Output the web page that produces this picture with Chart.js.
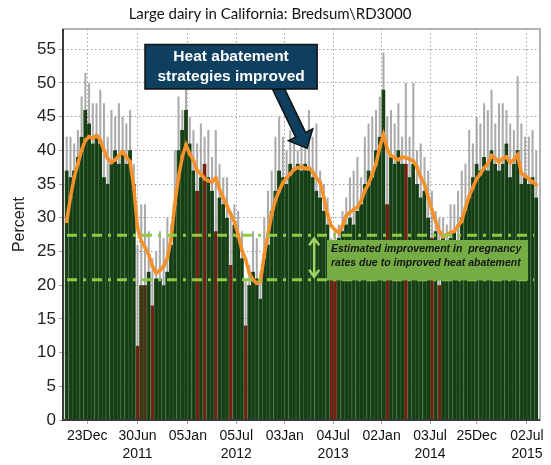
<!DOCTYPE html>
<html>
<head>
<meta charset="utf-8">
<script src="https://cdn.jsdelivr.net/npm/chart.js@4.4.1/dist/chart.umd.min.js"></script>
<style>
  html, body { margin: 0; padding: 0; background: #fff; }
  canvas { display: block; }
</style>
</head>
<body>
<canvas id="myChart" width="551" height="465"></canvas>
<script>
// week 0 = 23 Dec 2010, one bar every second week
var firstWeek = -11;
var stepWeeks = 2;

// pregnancy rate of the week (%)
var prWeek = [
  37, 36, 37, 39, 42, 46, 44, 41, 42, 41,
  36, 35, 38, 40, 38, 40, 38, 40, 35, 11,
  20, 20, 22, 17, 21, 21, 20, 22, 26, 32,
  40, 43, 46, 41, 37, 34, 36, 38, 36, 34,
  28, 33, 32, 30, 23, 29, 27, 24, 14, 20,
  22, 21, 18, 24, 26, 31, 34, 37, 36, 35,
  38, 37, 38, 37, 38, 37, 36, 34, 33, 31,
  29, 21, 21, 27, 28, 29, 30, 29, 31, 32,
  35, 37, 36, 40, 42, 49, 32, 39, 38, 40,
  38, 38, 36, 38, 35, 33, 34, 30, 27, 28,
  20, 27, 25, 27, 28, 26, 30, 31, 33, 36,
  38, 37, 39, 37, 40, 38, 37, 38, 41, 36,
  38, 40, 35, 36, 35, 36, 33
];

// upper limit of the week (%)
var prUpper = [
  42, 42, 41, 43, 48, 51.5, 50, 47, 47, 49,
  47, 42, 46, 45, 47, 45, 44, 46, 38, 26,
  32, 32, 28, 24, 25, 28, 27, 30, 29, 40,
  48, 46, 49, 45, 43, 41, 44, 42, 43, 39,
  43, 38, 36, 36, 31, 32, 31, 28, 21, 23,
  28, 27, 22, 30, 34, 37, 42, 45, 42, 40,
  43, 42, 40, 41, 41, 46, 42, 44, 37, 35,
  33, 27, 28, 29, 31, 33, 36, 37, 39, 36,
  42, 44, 45, 46, 48, 54.5, 45, 46, 44, 47,
  42, 50, 42, 50, 40, 41, 39, 37, 34, 31,
  30, 30, 29, 32, 32, 34, 37, 38, 43, 41,
  45, 44, 47, 46, 49, 44, 47, 47, 46, 44,
  43, 51, 44, 42, 42, 43, 40
];

// rolling average (%)
var prAvg = [
  29.5, 33, 36, 38, 40, 41.5, 42, 41.8, 42.2, 41.5,
  40, 38.8, 38.2, 38.6, 39.2, 39.8, 39, 38.3, 34.5, 28.5,
  26.5, 25.6, 24.5, 22.8, 21.8, 22.2, 22.8, 24, 26.8, 32,
  36, 39, 40.8, 39.5, 38.5, 37, 36.5, 35.8, 35.5, 35.3,
  35.9, 34.2, 33, 31.8, 30.5, 29.4, 27.5, 25.2, 23.8, 21.8,
  20.8, 20.3, 20.6, 24.5, 27.5, 30.5, 32.6, 34, 35.2, 35.9,
  36.5, 37.2, 37.4, 37.6, 37.3, 37.4, 36.8, 35.9, 35.3, 33,
  30.5, 28.8, 28.2, 27.8, 28.8, 30.3, 30.8, 31.2, 31.6, 32.5,
  34, 35, 36.5, 38, 40.5, 42.3, 40.2, 39.2, 38.9, 38.6,
  39, 38.9, 38.7, 38.4, 37.5, 36, 35, 33, 31.2, 29.5,
  28, 27.2, 27.5, 27.8, 28, 28.8, 29.5, 31.5, 33.2, 34.5,
  35.8, 36.5, 37.4, 38, 39.2, 38.8, 38.3, 38.8, 39, 38.2,
  38.6, 39.3, 36.6, 36.2, 35.8, 35.3, 34.9
];

// weeks shown in red
var hotWeeks = [27, 35, 59, 63, 69, 77, 85, 131, 133, 161, 171, 185, 189];
var warmWeeks = [29, 31];

var tickWeeks = [0, 27, 54, 80, 106, 132, 158, 184, 209, 236];
var tickDays = ["23Dec", "30Jun", "05Jan", "05Jul", "03Jan", "04Jul", "02Jan", "03Jul", "25Dec", "02Jul"];
var tickYears = ["", "2011", "", "2012", "", "2013", "", "2014", "", "2015"];

var bandHigh = 27.4;
var bandLow = 20.8;

var weeks = prWeek.map(function (v, i) { return firstWeek + i * stepWeeks; });

function points(values) {
  return values.map(function (v, i) { return { x: weeks[i], y: v }; });
}

function barColor(c) {
  var w = weeks[c.dataIndex];
  if (hotWeeks.indexOf(w) >= 0) return "#7c1c12";
  if (warmWeeks.indexOf(w) >= 0) return "#4a3015";
  return "#173d16";
}

var annotations = {
  id: "annotations",
  afterDatasetsDraw: function (chart) {
    var c = chart.ctx;
    var xs = chart.scales.x;
    var ys = chart.scales.y;
    var area = chart.chartArea;
    c.save();

    // frame
    c.strokeStyle = "#9a9a9a";
    c.lineWidth = 1.5;
    c.strokeRect(area.left, area.top, area.right - area.left, area.bottom - area.top);
    c.strokeStyle = "#3a3a3a";
    c.lineWidth = 2;
    c.beginPath();
    c.moveTo(area.left, area.top);
    c.lineTo(area.left, area.bottom);
    c.lineTo(area.right, area.bottom);
    c.stroke();

    // improvement band
    c.strokeStyle = "#8fca45";
    c.lineWidth = 3;
    c.setLineDash([10, 6, 3, 6]);
    [bandHigh, bandLow].forEach(function (v) {
      var py = ys.getPixelForValue(v);
      c.beginPath();
      c.moveTo(area.left + 4, py);
      c.lineTo(area.right - 6, py);
      c.stroke();
    });
    c.setLineDash([]);

    var gx0 = xs.getPixelForValue(128.7), gx1 = xs.getPixelForValue(236.6);
    var gy0 = ys.getPixelForValue(26.7), gy1 = ys.getPixelForValue(20.7);
    c.fillStyle = "#76ac44";
    c.fillRect(gx0, gy0, gx1 - gx0, gy1 - gy0);
    c.fillStyle = "#151515";
    c.font = "italic bold 10.5px Arial";
    c.textAlign = "left";
    c.textBaseline = "middle";
    c.fillText("Estimated improvement in  pregnancy", gx0 + 4, gy0 + 9.5);
    c.fillText("rates due to improved heat abatement", gx0 + 4, gy0 + 23);

    // double arrow
    var ax = xs.getPixelForValue(121.8);
    var ay0 = ys.getPixelForValue(bandHigh) + 3;
    var ay1 = ys.getPixelForValue(bandLow) - 3;
    c.strokeStyle = "#a3d165";
    c.lineWidth = 2.5;
    c.beginPath();
    c.moveTo(ax, ay0); c.lineTo(ax, ay1);
    c.moveTo(ax - 5, ay0 + 7); c.lineTo(ax, ay0); c.lineTo(ax + 5, ay0 + 7);
    c.moveTo(ax - 5, ay1 - 7); c.lineTo(ax, ay1); c.lineTo(ax + 5, ay1 - 7);
    c.stroke();

    // callout arrow
    var bx0 = xs.getPixelForValue(31), bx1 = xs.getPixelForValue(123.4);
    var by0 = ys.getPixelForValue(55.7), by1 = ys.getPixelForValue(49.1);
    var tx = xs.getPixelForValue(101.9), ty = by1 - 3;
    var hx = xs.getPixelForValue(118), hy = ys.getPixelForValue(40.3);
    var dx = hx - tx, dy = hy - ty, len = Math.sqrt(dx * dx + dy * dy);
    var ux = dx / len, uy = dy / len, nx = -uy, ny = ux;
    var headLen = 15, shaftW = 5.5, headW = 13.5;
    var mx = hx - ux * headLen, my = hy - uy * headLen;
    c.fillStyle = "#0e3f5f";
    c.strokeStyle = "#111";
    c.lineWidth = 1.5;
    c.beginPath();
    c.moveTo(tx + nx * shaftW, ty + ny * shaftW);
    c.lineTo(mx + nx * shaftW, my + ny * shaftW);
    c.lineTo(mx + nx * headW, my + ny * headW);
    c.lineTo(hx, hy);
    c.lineTo(mx - nx * headW, my - ny * headW);
    c.lineTo(mx - nx * shaftW, my - ny * shaftW);
    c.lineTo(tx - nx * shaftW, ty - ny * shaftW);
    c.closePath();
    c.fill();
    c.stroke();

    // callout box
    c.fillRect(bx0, by0, bx1 - bx0, by1 - by0);
    c.strokeRect(bx0, by0, bx1 - bx0, by1 - by0);
    c.fillStyle = "#fff";
    c.font = "bold 15.5px Arial";
    c.textAlign = "center";
    c.fillText("Heat abatement", (bx0 + bx1) / 2, by0 + 12);
    c.fillText("strategies improved", (bx0 + bx1) / 2, by0 + 32);

    c.restore();
  }
};

var ctx = document.getElementById("myChart").getContext("2d");
var myChart = new Chart(ctx, {
  type: "bar",
  data: {
    datasets: [
      {
        type: "line",
        label: "average",
        data: points(prAvg),
        borderColor: "#f5912a",
        borderWidth: 3.5,
        pointRadius: 2,
        pointBackgroundColor: "#f5912a",
        pointBorderWidth: 0,
        tension: 0,
        order: 0
      },
      {
        label: "week",
        data: points(prWeek),
        backgroundColor: barColor,
        borderColor: "#2c5c28",
        borderWidth: { left: 1, right: 0, top: 0, bottom: 0 },
        grouped: false,
        barPercentage: 1,
        categoryPercentage: 1,
        order: 1
      },
      {
        label: "upper",
        data: points(prUpper),
        backgroundColor: "rgba(135,135,135,0.7)",
        grouped: false,
        barPercentage: 0.55,
        categoryPercentage: 1,
        order: 2
      }
    ]
  },
  options: {
    responsive: false,
    animation: false,
    layout: { padding: { left: 0, right: 11, top: 0, bottom: 0 } },
    plugins: {
      legend: { display: false },
      tooltip: { enabled: false },
      title: {
        display: true,
        text: "Large dairy in California: Bredsum\\RD3000",
        color: "#111",
        font: { family: "Lato", size: 15, weight: "normal" },
        padding: { top: 5, bottom: 6 }
      }
    },
    scales: {
      x: {
        type: "linear",
        min: -13,
        max: 243,
        offset: false,
        afterBuildTicks: function (s) {
          s.ticks = tickWeeks.map(function (v) { return { value: v }; });
        },
        afterFit: function (s) { s.height = 45; },
        ticks: {
          autoSkip: false,
          maxRotation: 0,
          padding: 3,
          color: "#111",
          font: { family: "Arial", size: 14, lineHeight: 1.3 },
          callback: function (v) {
            var k = tickWeeks.indexOf(v);
            return tickYears[k] ? [tickDays[k], tickYears[k]] : tickDays[k];
          }
        },
        grid: { offset: false, color: "#ab9d9d", lineWidth: 1, tickLength: 4 },
        border: { display: false, dash: [1.5, 2.5] }
      },
      y: {
        min: 0,
        max: 58,
        afterFit: function (s) { s.width = 63; },
        ticks: {
          stepSize: 5,
          includeBounds: false,
          padding: 3,
          color: "#222",
          font: { family: "Arial", size: 17 }
        },
        title: {
          display: true,
          text: "Percent",
          color: "#222",
          font: { family: "Arial", size: 16 },
          padding: { top: 10, bottom: 0 }
        },
        grid: { color: "#ab9d9d", lineWidth: 1, tickLength: 4 },
        border: { display: false, dash: [1.5, 2.5] }
      }
    }
  },
  plugins: [annotations]
});
</script>
</body>
</html>
